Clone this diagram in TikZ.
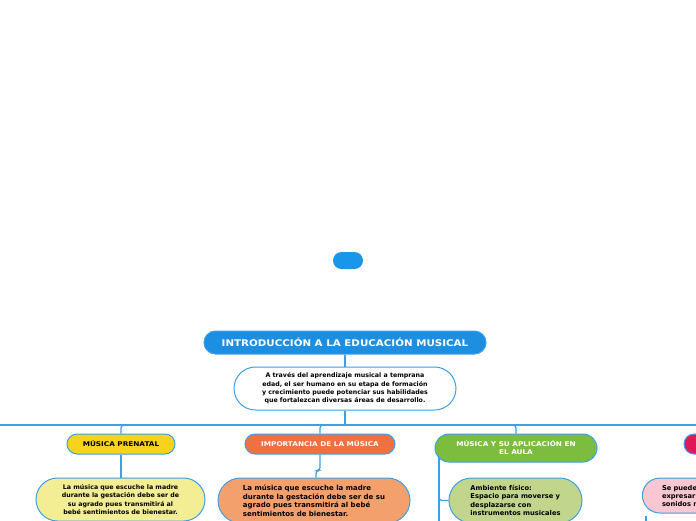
\documentclass[tikz,border=0pt]{standalone}
\usepackage{fontspec}
\setmainfont{DejaVu Sans}
\newfontfamily\widefont{DejaVu Sans}[FakeStretch=1.12]
\usetikzlibrary{shapes.misc,backgrounds}
\definecolor{lblue}{HTML}{3BA0E6}
\definecolor{tblue}{HTML}{1C8FE3}
\definecolor{pblue}{HTML}{1A96E8}
\definecolor{cyel}{HTML}{F7D21E}
\definecolor{cyel2}{HTML}{F3EE94}
\definecolor{corg}{HTML}{EF7141}
\definecolor{corg2}{HTML}{F4A06D}
\definecolor{cgrn}{HTML}{7CBD3F}
\definecolor{cgrn2}{HTML}{C2D58C}
\definecolor{cred}{HTML}{E1175A}
\definecolor{cpnk}{HTML}{F8C7D2}
\begin{document}
\begin{tikzpicture}[x=1pt,y=-1pt,
  conn/.style={draw=lblue,line width=1.3pt,rounded corners=3pt},
  pillbox/.style={rounded rectangle,draw=lblue,line width=1pt,inner sep=0pt},
  topic/.style={pillbox,minimum height=20pt,font=\widefont\fontsize{6.5}{8}\selectfont\bfseries},
  body/.style={pillbox,font=\fontsize{6.3}{8.4}\selectfont\bfseries,text=black}
]
\useasboundingbox (0,0) rectangle (696,520);
\clip (0,0) rectangle (696,520);

\node[rounded rectangle,fill=pblue,minimum width=30pt,minimum height=17pt,inner sep=0pt] (pill) at (348,260.5) {};
\node[pillbox,fill=tblue,minimum width=282pt,minimum height=23pt,text=white,font=\widefont\fontsize{9.2}{11}\selectfont\bfseries] (title) at (345,342.5) {INTRODUCCIÓN A LA EDUCACIÓN MUSICAL};
\node[body,fill=white,minimum width=222pt,minimum height=43pt,align=center] (desc) at (345,388.5)
  {A través del aprendizaje musical a temprana\\edad, el ser humano en su etapa de formación\\y crecimiento puede potenciar sus habilidades\\que fortalezcan diversas áreas de desarrollo.};

\node[topic,fill=cyel,minimum width=108pt,text=black] (pre) at (121,444) {MÚSICA PRENATAL};
\node[topic,fill=corg,minimum width=150pt,text=white] (imp) at (320,444) {IMPORTANCIA DE LA MÚSICA};
\node[topic,fill=cgrn,minimum width=162pt,minimum height=28pt,text=white,align=center] (aula) at (516,448) {MÚSICA Y SU APLICACIÓN EN\\EL AULA};
\node[topic,fill=cred,minimum width=80pt] (exp) at (724,444) {};

\node[body,fill=cyel2,minimum width=169pt,minimum height=43pt,align=center] (yb) at (120.5,499.5)
  {La música que escuche la madre\\durante la gestación debe ser de\\su agrado pues transmitirá al\\bebé sentimientos de bienestar.};
\node[body,fill=corg2,minimum width=192pt,minimum height=45pt,align=left,font=\fontsize{7}{8.5}\selectfont\bfseries] (sal) at (314,500.5)
  {La música que escuche la madre\\durante la gestación debe ser de su\\agrado pues transmitirá al bebé\\sentimientos de bienestar.};
\node[body,fill=cgrn2,minimum width=133pt,minimum height=45pt,align=left,font=\fontsize{6.7}{8.5}\selectfont\bfseries] (lg) at (515.5,500.5)
  {Ambiente físico:\\Espacio para moverse y\\desplazarse con\\instrumentos musicales};
\node[body,fill=cpnk,minimum height=35pt,inner xsep=16pt,text width=130pt,align=left,font=\fontsize{6.7}{8}\selectfont\bfseries] (pk) at (727,495.5)
  {Se puede\\expresar\\sonidos r};

\coordinate (hub) at (345,425);
\coordinate (hl) at (-5,425);
\coordinate (hr) at (701,425);
\coordinate (gtop) at (439,452);
\coordinate (gbot) at (439,530);
\coordinate (gj) at (439,488);
\coordinate (ptop) at (646,515.5);
\coordinate (pbot) at (646,530);

\begin{scope}[on background layer]
\draw[conn] (title.south) -- (desc.north);
\draw[conn] (desc.south) -- (hub);
\draw[conn,rounded corners=0pt] (hl) -- (hr);
\draw[conn] (hub) -| (pre.north);
\draw[conn] (hub) -| (imp.north);
\draw[conn] (hub) -| (aula.north);
\draw[conn] (pre.south) -- (yb.north -| pre.south);
\draw[conn] (imp.south) -- ++(0,16) -| ([xshift=2pt]sal.north);
\draw[conn] (gtop) -- (gbot);
\draw[conn] (gj) |- (lg.west);
\draw[conn] (ptop) -- (pbot);
\end{scope}
\end{tikzpicture}
\end{document}
